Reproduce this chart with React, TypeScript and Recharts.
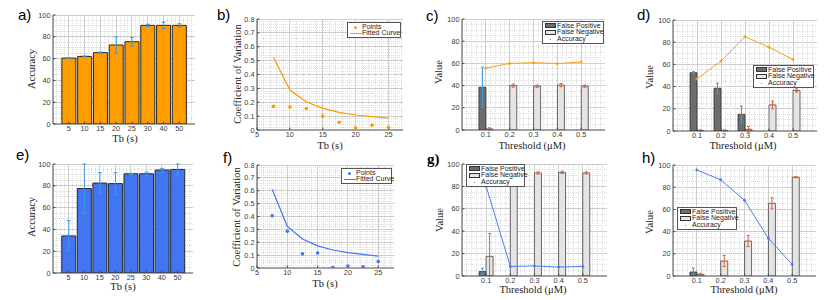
import React from "react";
import { ComposedChart, Bar, Line, XAxis, YAxis, ErrorBar, ReferenceLine } from "recharts";

// ---- data ----
const TB_LABELS = ["5", "10", "15", "20", "25", "30", "40", "50"];
const ACC_A = [60.5, 62, 65.5, 72.5, 75.5, 90.5, 90.5, 90.5];
const ERR_A = [0.5, 0.5, 0.5, 7.5, 4, 1, 3, 1.5];
const ACC_E = [34, 77.5, 82.5, 82, 91, 91, 94.5, 95];
const ERR_E = [14, 22.5, 9.5, 10, 0.5, 1.5, 1.5, 5];

const TB_FIT = [7.5, 10, 12.5, 15, 17.5, 20, 22.5, 25];
const POINTS_B = [0.17, 0.165, 0.155, 0.1, 0.055, 0.015, 0.035, 0.02];
const CURVE_B = [0.525, 0.288, 0.204, 0.156, 0.127, 0.108, 0.097, 0.086];
const POINTS_F = [0.405, 0.285, 0.11, 0.117, 0.003, 0.016, 0.01, 0.05];
const CURVE_F = [0.612, 0.323, 0.225, 0.172, 0.14, 0.12, 0.106, 0.092];

const THRESHOLDS = [0.1, 0.2, 0.3, 0.4, 0.5];
const FP_C = [38.5, 0, 0, 0, 0];
const FP_ERR_C = [18, 0, 0, 0, 0];
const FN_C = [1, 40, 39.5, 40.5, 39.5];
const FN_ERR_C = [1, 1.5, 1, 1.5, 1];
const ACC_C = [55.7, 60, 60.6, 59.8, 61.2];

const FP_D = [52.5, 38.5, 15, 0, 0];
const FP_ERR_D = [1, 4.5, 7.5, 0, 0];
const FN_D = [0.5, 0.5, 1.5, 23.5, 36.5];
const FN_ERR_D = [0.5, 0.5, 2.5, 3.5, 1.5];
const ACC_D = [47, 63, 85, 75.5, 64.5];

const FP_G = [4, 0, 0, 0, 0];
const FP_ERR_G = [3, 0, 0, 0, 0];
const FN_G = [17.5, 91.5, 92, 92.5, 92];
const FN_ERR_G: (number | number[])[] = [[17.5, 20.5], 0.5, 1, 1, 1];
const ACC_G = [80, 8.5, 9, 8, 8.5];

const FP_H = [3.6, 0, 0, 0, 0];
const FP_ERR_H = [3.6, 0, 0, 0, 0];
const FN_H = [1.5, 13.5, 31.5, 65.5, 89];
const FN_ERR_H = [1, 5, 5, 5, 0.5];
const ACC_H = [95.5, 86.8, 68.2, 34, 10.5];

const ACC_TICKS = [0, 20, 40, 60, 80, 100];
const CV_TICKS = [0, 0.1, 0.2, 0.3, 0.4, 0.5, 0.6, 0.7, 0.8];
const TB_TICKS = [5, 10, 15, 20, 25];

// ---- styling ----
const SANS = '"Liberation Sans", Arial, sans-serif';
const SERIF = '"Liberation Serif", "DejaVu Serif", serif';
const ORANGE = "#ff9c00";
const ORANGE_LINE = "#f7a21b";
const BLUE = "#4275f2";
const BLUE_LINE = "#4a7ff2";
const ERR_BLUE = "#3d9be0";
const ERR_ORANGE = "#e8602c";
const FP_FILL = "#6d6d6d";
const FN_FILL = "#e4e4e4";
const FRAME = "#4a4a4a";
const GRID_MAJOR = "#cdcdcd";
const GRID_MINOR = "#dcdcdc";

const steps = (a: number, b: number, s: number) => {
  const out: number[] = [];
  for (let v = a; v <= b + 1e-9; v += s) out.push(+v.toFixed(4));
  return out;
};

const barIdx = TB_LABELS.map((_, i) => i + 1);
const dataA = TB_LABELS.map((_, i) => ({ x: i + 1, acc: ACC_A[i], err: ERR_A[i] }));
const dataE = TB_LABELS.map((_, i) => ({ x: i + 1, acc: ACC_E[i], err: ERR_E[i] }));
const dataB = TB_FIT.map((x, i) => ({ x, pts: POINTS_B[i], fit: CURVE_B[i] }));
const dataF = TB_FIT.map((x, i) => ({ x, pts: POINTS_F[i], fit: CURVE_F[i] }));
const thr = (fp: number[], fpe: any[], fn: number[], fne: any[], acc: number[]) =>
  THRESHOLDS.map((x, i) => ({ x, fp: fp[i], fpErr: fpe[i], fn: fn[i], fnErr: fne[i], acc: acc[i] }));
const dataC = thr(FP_C, FP_ERR_C, FN_C, FN_ERR_C, ACC_C);
const dataD = thr(FP_D, FP_ERR_D, FN_D, FN_ERR_D, ACC_D);
const dataG = thr(FP_G, FP_ERR_G, FN_G, FN_ERR_G, ACC_G);
const dataH = thr(FP_H, FP_ERR_H, FN_H, FN_ERR_H, ACC_H);

type Box = { x: number; y: number; w: number; h: number };

const tickStyle = { fontSize: 7.3, fill: "#3a3a3a", fontFamily: SANS };

// matlab-like grid: dotted minor lines and solid major lines, drawn through the axis scales
function gridLines(xTicks: number[], yTicks: number[], xMinor: number[], yMinor: number[]) {
  const near = (arr: number[], v: number) => arr.some((t) => Math.abs(t - v) < 1e-6);
  const common = { xAxisId: "x", yAxisId: "y", ifOverflow: "hidden" as const, zIndex: 50, strokeWidth: 1, shapeRendering: "crispEdges" };
  return [
    ...xMinor
      .filter((v) => !near(xTicks, v))
      .map((v) => <ReferenceLine key={`mx${v}`} {...common} x={v} stroke={GRID_MINOR} strokeDasharray="1 1" />),
    ...yMinor
      .filter((v) => !near(yTicks, v))
      .map((v) => <ReferenceLine key={`my${v}`} {...common} y={v} stroke={GRID_MINOR} strokeDasharray="1 1" />),
    ...xTicks.map((v) => <ReferenceLine key={`gx${v}`} {...common} x={v} stroke={GRID_MAJOR} />),
    ...yTicks.map((v) => <ReferenceLine key={`gy${v}`} {...common} y={v} stroke={GRID_MAJOR} />),
  ];
}

function Panel(props: {
  box: Box;
  data: any[];
  xDomain: [number, number];
  yDomain: [number, number];
  xTicks: number[];
  yTicks: number[];
  xMinor: number[];
  yMinor: number[];
  xFmt?: (v: number) => string;
  yFmt?: (v: number) => string;
  children?: React.ReactNode;
}) {
  const { box, data, xDomain, yDomain, xTicks, yTicks, xMinor, yMinor, xFmt, yFmt, children } = props;
  const ml = 30, mt = 4, mr = 4, mb = 16;
  const axisCommon = {
    type: "number" as const,
    allowDataOverflow: true,
    tickSize: -2.5,
    stroke: FRAME,
    axisLine: { stroke: FRAME },
    tickLine: { stroke: FRAME },
  };
  return (
    <div style={{ position: "absolute", left: box.x - ml, top: box.y - mt }}>
      <ComposedChart
        width={box.w + ml + mr}
        height={box.h + mt + mb}
        data={data}
        barGap={0}
        margin={{ top: mt, right: mr, bottom: 2, left: 4 }}
      >
        <XAxis
          {...axisCommon}
          xAxisId="x"
          dataKey="x"
          domain={xDomain}
          ticks={xTicks}
          interval={0}
          height={14}
          tickMargin={4.5}
          tickFormatter={xFmt}
          tick={tickStyle}
        />
        <YAxis
          {...axisCommon}
          yAxisId="y"
          domain={yDomain}
          ticks={yTicks}
          interval={0}
          width={26}
          tickMargin={5}
          tickFormatter={yFmt}
          tick={tickStyle}
        />
        <XAxis {...axisCommon} xAxisId="top" orientation="top" domain={xDomain} ticks={xTicks} height={0} tick={false} />
        <YAxis {...axisCommon} yAxisId="right" orientation="right" domain={yDomain} ticks={yTicks} width={0} tick={false} />
        {gridLines(xTicks, yTicks, xMinor, yMinor)}
        {children}
      </ComposedChart>
    </div>
  );
}

type LegendItem = { label: string; kind: "dot" | "line" | "dark" | "light" | "tiny"; color?: string };

function LegendBox({ left, top, width, items }: { left: number; top: number; width: number; items: LegendItem[] }) {
  return (
    <div
      style={{
        position: "absolute",
        left,
        top,
        width,
        background: "#fff",
        border: "0.8px solid #555",
        padding: "0.5px 1px",
        boxSizing: "border-box",
        fontFamily: SANS,
        fontSize: 7,
        color: "#222",
      }}
    >
      {items.map((it) => (
        <div key={it.label} style={{ display: "flex", alignItems: "center", height: 6.7, lineHeight: "6.7px" }}>
          <div style={{ width: 13, height: 6.7, position: "relative", flex: "none" }}>
            {it.kind === "dark" || it.kind === "light" ? (
              <div
                style={{
                  position: "absolute",
                  left: 1,
                  top: 0.8,
                  width: 11,
                  height: 4.6,
                  background: it.kind === "dark" ? FP_FILL : FN_FILL,
                  border: "0.8px solid #333",
                  boxSizing: "border-box",
                }}
              />
            ) : null}
            {it.kind === "line" ? (
              <div style={{ position: "absolute", left: 0.5, top: 3, width: 12, height: 1.2, background: it.color }} />
            ) : null}
            {it.kind === "dot" ? (
              <div style={{ position: "absolute", left: 5, top: 2, width: 3, height: 3, borderRadius: 2, background: it.color }} />
            ) : null}
            {it.kind === "tiny" ? (
              <div style={{ position: "absolute", left: 6, top: 3, width: 1.4, height: 1.4, background: it.color }} />
            ) : null}
          </div>
          <span style={{ whiteSpace: "nowrap" }}>{it.label}</span>
        </div>
      ))}
    </div>
  );
}

const THR_LEGEND: LegendItem[] = [
  { label: "False Positive", kind: "dark" },
  { label: "False Negative", kind: "light" },
  { label: "Accuracy", kind: "tiny", color: ERR_BLUE },
];

function Title({ x, y, text, vertical }: { x: number; y: number; text: string; vertical?: boolean }) {
  return (
    <div
      style={{
        position: "absolute",
        left: x,
        top: y,
        transform: `translate(-50%, -50%)${vertical ? " rotate(-90deg)" : ""}`,
        fontFamily: SERIF,
        fontSize: 10.5,
        color: "#222",
        whiteSpace: "nowrap",
        lineHeight: 1,
      }}
    >
      {text}
    </div>
  );
}

function Letter({ x, y, text, bold }: { x: number; y: number; text: string; bold?: boolean }) {
  return (
    <div
      style={{
        position: "absolute",
        left: x,
        top: y,
        fontFamily: bold ? SERIF : SANS,
        fontWeight: bold ? 700 : 400,
        fontSize: 15,
        lineHeight: 1,
        color: "#000",
      }}
    >
      {text}
    </div>
  );
}

const idxFmt = (v: number) => TB_LABELS[v - 1] ?? "";
const thrFmt = (v: number) => v.toFixed(1);
const cvFmt = (v: number) => (v === 0 ? "0" : v.toFixed(1));

function AccuracyBars({ box, data, fill }: { box: Box; data: any[]; fill: string }) {
  return (
    <Panel
      box={box}
      data={data}
      xDomain={[0, 9]}
      yDomain={[0, 100]}
      xTicks={barIdx}
      yTicks={ACC_TICKS}
      xMinor={steps(0, 9, 0.25)}
      yMinor={steps(0, 100, 5)}
      xFmt={idxFmt}
    >
      <Bar xAxisId="x" yAxisId="y" dataKey="acc" fill={fill} stroke="#2b2b2b" strokeWidth={1} barSize={14} isAnimationActive={false}>
        <ErrorBar dataKey="err" stroke={ERR_BLUE} width={2} strokeWidth={1} direction="y" />
      </Bar>
    </Panel>
  );
}

function CvPanel({ box, data, color, xMax }: { box: Box; data: any[]; color: string; xMax: number }) {
  return (
    <Panel
      box={box}
      data={data}
      xDomain={[5, xMax]}
      yDomain={[0, 0.8]}
      xTicks={TB_TICKS}
      yTicks={CV_TICKS}
      xMinor={steps(5, 27, 1)}
      yMinor={steps(0, 0.8, 0.02)}
      yFmt={cvFmt}
    >
      <Line xAxisId="x" yAxisId="y" dataKey="fit" stroke={color} strokeWidth={1.2} dot={false} type="linear" isAnimationActive={false} />
      <Line
        xAxisId="x"
        yAxisId="y"
        dataKey="pts"
        stroke="none"
        dot={{ r: 1.8, fill: color, stroke: "none" }}
        isAnimationActive={false}
      />
    </Panel>
  );
}

function ThresholdPanel({ box, data, accColor }: { box: Box; data: any[]; accColor: string }) {
  return (
    <Panel
      box={box}
      data={data}
      xDomain={[0, 0.6]}
      yDomain={[0, 100]}
      xTicks={THRESHOLDS}
      yTicks={ACC_TICKS}
      xMinor={steps(0, 0.6, 0.02)}
      yMinor={steps(0, 100, 5)}
      xFmt={thrFmt}
    >
      <Bar xAxisId="x" yAxisId="y" dataKey="fp" fill={FP_FILL} stroke="#333" strokeWidth={0.8} barSize={7} isAnimationActive={false}>
        <ErrorBar dataKey="fpErr" stroke={ERR_BLUE} width={1.5} strokeWidth={1} direction="y" />
      </Bar>
      <Bar xAxisId="x" yAxisId="y" dataKey="fn" fill={FN_FILL} stroke="#444" strokeWidth={0.8} barSize={7} isAnimationActive={false}>
        <ErrorBar dataKey="fnErr" stroke={ERR_ORANGE} width={1.5} strokeWidth={1} direction="y" />
      </Bar>
      <Line
        xAxisId="x"
        yAxisId="y"
        dataKey="acc"
        stroke={accColor}
        strokeWidth={1}
        type="linear"
        dot={{ r: 1.2, fill: accColor, stroke: accColor, strokeWidth: 0.5 }}
        isAnimationActive={false}
      />
    </Panel>
  );
}

export default function App() {
  return (
    <div style={{ position: "absolute", left: 0, top: 0, width: 830, height: 300, background: "#fff", overflow: "hidden" }}>
      {/* top row */}
      <AccuracyBars box={{ x: 53, y: 15, w: 142, h: 109 }} data={dataA} fill={ORANGE} />
      <CvPanel box={{ x: 257, y: 19, w: 146, h: 111 }} data={dataB} color={ORANGE} xMax={27.2} />
      <ThresholdPanel box={{ x: 462, y: 19, w: 143, h: 111 }} data={dataC} accColor={ORANGE_LINE} />
      <ThresholdPanel box={{ x: 673, y: 20, w: 144, h: 111 }} data={dataD} accColor={ORANGE_LINE} />
      {/* bottom row */}
      <AccuracyBars box={{ x: 53, y: 164, w: 140, h: 109 }} data={dataE} fill={BLUE} />
      <CvPanel box={{ x: 257, y: 165, w: 137, h: 103 }} data={dataF} color={BLUE} xMax={27.6} />
      <ThresholdPanel box={{ x: 462, y: 164, w: 145, h: 112 }} data={dataG} accColor={BLUE_LINE} />
      <ThresholdPanel box={{ x: 673, y: 165, w: 143, h: 111 }} data={dataH} accColor={BLUE_LINE} />

      <LegendBox
        left={347}
        top={22}
        width={54}
        items={[
          { label: "Points", kind: "dot", color: ORANGE },
          { label: "Fitted Curve", kind: "line", color: ORANGE },
        ]}
      />
      <LegendBox
        left={341}
        top={168}
        width={51}
        items={[
          { label: "Points", kind: "dot", color: BLUE },
          { label: "Fitted Curve", kind: "line", color: BLUE },
        ]}
      />
      <LegendBox left={542} top={21} width={62} items={THR_LEGEND} />
      <LegendBox left={753} top={65} width={61} items={THR_LEGEND} />
      <LegendBox left={466} top={164} width={59} items={THR_LEGEND} />
      <LegendBox left={677} top={207} width={60} items={THR_LEGEND} />

      <Title x={32} y={69} text="Accuracy" vertical />
      <Title x={125} y={138.5} text="Tb (s)" />
      <Title x={238} y={74} text="Coefficient of Variation" vertical />
      <Title x={330} y={145.5} text="Tb (s)" />
      <Title x={439} y={72} text="Value" vertical />
      <Title x={532} y={145.5} text="Threshold (μM)" />
      <Title x={650} y={77} text="Value" vertical />
      <Title x={743} y={146} text="Threshold (μM)" />

      <Title x={32} y={217} text="Accuracy" vertical />
      <Title x={123} y={287} text="Tb (s)" />
      <Title x={237} y={217} text="Coefficient of Variation" vertical />
      <Title x={325} y={284} text="Tb (s)" />
      <Title x={440} y={220} text="Value" vertical />
      <Title x={533} y={290} text="Threshold (μM)" />
      <Title x={744} y={290} text="Threshold (μM)" />
      <Title x={650} y={222} text="Value" vertical />

      <Letter x={18} y={7} text="a)" />
      <Letter x={217} y={7} text="b)" />
      <Letter x={426} y={8} text="c)" />
      <Letter x={637} y={7} text="d)" />
      <Letter x={16} y={147} text="e)" />
      <Letter x={223} y={150} text="f)" />
      <Letter x={427} y={152} text="g)" bold />
      <Letter x={642} y={150} text="h)" />
    </div>
  );
}
